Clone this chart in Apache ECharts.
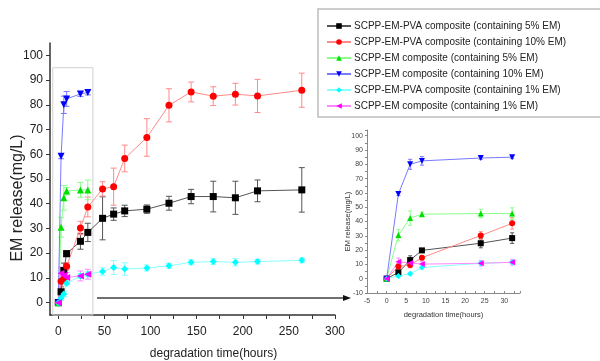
<!DOCTYPE html>
<html><head><meta charset="utf-8">
<script src="https://cdn.jsdelivr.net/npm/echarts@6/dist/echarts.min.js"></script>
<style>html,body{margin:0;padding:0;background:#fff}#c{width:600px;height:361px}</style>
</head><body><div id="c"></div>
<script>
// ---- data ----
const timeAll = [0, 3, 6, 9, 24, 32, 48, 60, 72, 96, 120, 144, 168, 192, 216, 264];
const timeShort = [0, 3, 6, 9, 24, 32];
const seriesNames = [
  'SCPP-EM-PVA composite (containing 5% EM)',
  'SCPP-EM-PVA composite (containing 10% EM)',
  'SCPP-EM composite (containing 5% EM)',
  'SCPP-EM composite (containing 10% EM)',
  'SCPP-EM-PVA composite (containing 1% EM)',
  'SCPP-EM composite (containing 1% EM)'
];
const pva5 = [0, 4.4, 13, 19.8, 24.8, 28.4, 34.1, 35.8, 37.1, 37.8, 40.2, 42.9, 42.9, 42.4, 45.2, 45.6];
const pva5Err = [1, 2, 3, 1.2, 3.2, 3.7, 8.7, 2.5, 2.3, 1.7, 2.8, 2.9, 6.2, 6.7, 4.4, 9];
const pva10 = [0, 8.6, 9.6, 14.7, 30.2, 38.7, 46.0, 46.9, 58.3, 66.8, 79.8, 85.2, 83.5, 84.3, 83.6, 85.9];
const pva10Err = [0.5, 2, 2, 1.5, 2.7, 4, 2.9, 7.5, 5.4, 7.6, 6.7, 4, 3.8, 4.4, 6.7, 6.9];
const em5 = [0, 30.5, 42.4, 45.1, 45.6, 45.6];
const em5Err = [0.5, 4, 5, 1.5, 3, 4];
const em10 = [0, 59.2, 80, 82.4, 84.4, 85];
const em10Err = [0.5, 1, 3.5, 3, 1, 1];
const pva1 = [0, 1.9, 3.5, 7.8, 10.8, 11.5, 12.6, 14.2, 13.6, 14.0, 14.9, 16.3, 16.6, 16.3, 16.6, 17.1];
const pva1Err = [0.5, 1, 1, 1, 1, 1, 1.5, 2.8, 2.5, 1.2, 1, 1, 1.2, 1.5, 1, 1];
const em1 = [0, 11.9, 11, 10.2, 10.8, 11.5];
const em1Err = [0.5, 2.5, 3, 2, 2, 2];

const mainXLabels = [0, 50, 100, 150, 200, 250, 300];
const mainXTicks = [0, 25, 50, 75, 100, 125, 150, 175, 200, 225, 250, 275, 300];
const mainYLabels = [0, 10, 20, 30, 40, 50, 60, 70, 80, 90, 100];

// ---- styles ----
const colors = ['#000000', '#ff0000', '#00e000', '#0000ff', '#00ffff', '#ff00ff'];
const lineColors = ['#555555', '#ff8a8a', '#8aff8a', '#7a7aff', '#8affff', '#ff8aff'];
const symbols = ['rect', 'circle', 'triangle', 'triangle', 'diamond', 'triangle'];
const rotates = [0, 0, 0, 180, 0, 90];
const FONT = "'Liberation Sans', Arial, sans-serif";

const sets = [
  {t: timeAll, v: pva5, e: pva5Err},
  {t: timeAll, v: pva10, e: pva10Err},
  {t: timeShort, v: em5, e: em5Err},
  {t: timeShort, v: em10, e: em10Err},
  {t: timeAll, v: pva1, e: pva1Err},
  {t: timeShort, v: em1, e: em1Err}
];

function errSeries(idx, axis, capW, maxT) {
  const s = sets[idx];
  const data = [];
  s.t.forEach((t, i) => { if (t <= maxT) data.push([t, s.v[i] - s.e[i], s.v[i] + s.e[i]]); });
  return {
    type: 'custom', xAxisIndex: axis, yAxisIndex: axis, z: 1, silent: true,
    data: data, encode: {x: 0, y: [1, 2]},
    renderItem: function (params, api) {
      const x = api.value(0);
      const lo = api.coord([x, api.value(1)]);
      const hi = api.coord([x, api.value(2)]);
      const st = {stroke: lineColors[idx], lineWidth: 1};
      return {type: 'group', children: [
        {type: 'line', shape: {x1: lo[0], y1: lo[1], x2: hi[0], y2: hi[1]}, style: st},
        {type: 'line', shape: {x1: lo[0] - capW, y1: lo[1], x2: lo[0] + capW, y2: lo[1]}, style: st},
        {type: 'line', shape: {x1: hi[0] - capW, y1: hi[1], x2: hi[0] + capW, y2: hi[1]}, style: st}
      ]};
    }
  };
}

function lineSeries(idx, axis, size, maxT) {
  const s = sets[idx];
  const data = [];
  s.t.forEach((t, i) => { if (t <= maxT) data.push([t, s.v[i]]); });
  return {
    name: seriesNames[idx], type: 'line', xAxisIndex: axis, yAxisIndex: axis, z: 2,
    data: data, symbol: symbols[idx], symbolRotate: rotates[idx], symbolSize: size,
    showAllSymbol: true,
    itemStyle: {color: colors[idx]},
    lineStyle: {color: lineColors[idx], width: 1}
  };
}

const series = [];
for (let i = 0; i < 6; i++) series.push(errSeries(i, 0, 3, 1000));
for (let i = 0; i < 6; i++) series.push(lineSeries(i, 0, 7, 1000));
for (let i = 0; i < 6; i++) series.push(errSeries(i, 1, 2, 40));
for (let i = 0; i < 6; i++) series.push(lineSeries(i, 1, 6, 40));

// highlight box on main chart
series[6].markArea = {
  silent: true,
  itemStyle: {color: 'rgba(0,0,0,0)', borderColor: '#d0d0d0', borderWidth: 1},
  data: [[{coord: [-6, -5]}, {coord: [37.5, 95]}]]
};

const axisCommon = {
  splitLine: {show: false},
  nameMoveOverlap: false
};

const option = {
  animation: false,
  backgroundColor: '#fff',
  textStyle: {fontFamily: FONT},
  grid: [
    {left: 50, top: 43, width: 285, height: 272, containLabel: false, outerBoundsMode: 'none'},
    {left: 367, top: 130, width: 153, height: 163, containLabel: false, outerBoundsMode: 'none'}
  ],
  xAxis: [
    Object.assign({}, axisCommon, {
      type: 'value', gridIndex: 0, min: -9, max: 300,
      axisLine: {onZero: false, lineStyle: {color: '#333', width: 1.5}},
      axisTick: {show: true, length: 4, lineStyle: {color: '#333'}, customValues: mainXTicks},
      axisLabel: {color: '#222', fontSize: 12, margin: 11, fontFamily: FONT, customValues: mainXLabels},
      name: 'degradation time(hours)', nameLocation: 'middle', nameGap: 33,
      nameTextStyle: {color: '#222', fontSize: 12, fontFamily: FONT, padding: [0, 0, 0, 42]}
    }),
    Object.assign({}, axisCommon, {
      type: 'value', gridIndex: 1, min: -5, max: 34, interval: 5,
      axisLine: {onZero: false, lineStyle: {color: '#888', width: 1}},
      axisTick: {show: true, length: 2, inside: true, lineStyle: {color: '#888'}},
      minorTick: {show: true, splitNumber: 2, length: 2, lineStyle: {color: '#888'}},
      axisLabel: {color: '#444', fontSize: 7, margin: 5, fontFamily: FONT,
        formatter: v => (v <= 30 ? String(v) : '')},
      name: 'degradation time(hours)', nameLocation: 'middle', nameGap: 18,
      nameTextStyle: {color: '#333', fontSize: 7.5, fontFamily: FONT}
    })
  ],
  yAxis: [
    Object.assign({}, axisCommon, {
      type: 'value', gridIndex: 0, min: -5, max: 105,
      axisLine: {onZero: false, lineStyle: {color: '#333', width: 1.5}},
      axisTick: {show: true, length: 4, lineStyle: {color: '#333'}, customValues: mainYLabels},
      axisLabel: {color: '#222', fontSize: 12, margin: 7, fontFamily: FONT, customValues: mainYLabels},
      name: 'EM release(mg/L)', nameLocation: 'middle', nameGap: 24,
      nameTextStyle: {color: '#222', fontSize: 16, fontFamily: FONT, padding: [0, 38, 0, 0]}
    }),
    Object.assign({}, axisCommon, {
      type: 'value', gridIndex: 1, min: -10, max: 104, interval: 10,
      axisLine: {onZero: false, lineStyle: {color: '#888', width: 1}},
      axisTick: {show: true, length: 2, lineStyle: {color: '#888'}},
      minorTick: {show: true, splitNumber: 2, length: 2, lineStyle: {color: '#888'}},
      axisLabel: {color: '#444', fontSize: 7, margin: 4, fontFamily: FONT,
        formatter: v => (v <= 100 ? String(v) : '')},
      name: 'EM release(mg/L)', nameLocation: 'middle', nameGap: 15,
      nameTextStyle: {color: '#333', fontSize: 7.5, fontFamily: FONT, padding: [0, 20, 0, 0]}
    })
  ],
  legend: {
    orient: 'vertical', left: 326, top: 20, padding: 0,
    itemWidth: 24, itemHeight: 7, itemGap: 4,
    data: seriesNames,
    textStyle: {color: '#222', fontSize: 10, fontFamily: FONT, lineHeight: 12, padding: [0, 0, 0, -2]}
  },
  graphic: [
    {type: 'rect', shape: {x: 318, y: 9, width: 290, height: 108},
      style: {fill: 'none', stroke: '#bdbdbd', lineWidth: 1.5}, z: 0},
    {type: 'line', shape: {x1: 97, y1: 298, x2: 344, y2: 298},
      style: {stroke: '#707070', lineWidth: 2}},
    {type: 'polygon', shape: {points: [[343, 295], [351, 298], [343, 301]]},
      style: {fill: '#111'}}
  ],
  series: series
};

const chart = echarts.init(document.getElementById('c'), null, {renderer: 'canvas'});
chart.setOption(option);
</script></body></html>
